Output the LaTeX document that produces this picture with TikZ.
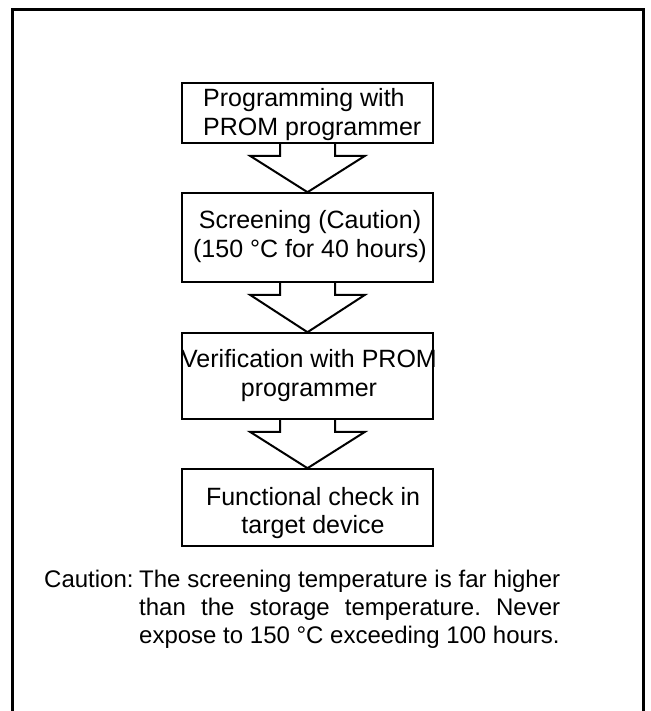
\documentclass[tikz,border=0pt]{standalone}
\usepackage{fontspec}
\setmainfont{Liberation Sans}
\usetikzlibrary{calc}
\frenchspacing
\newcommand\flowarr[2]{%
  \draw[bigarrow] ($(#1.south)+(-27.5,0)$) -- ($(#1.south)+(-27.5,12)$)
    -- ($(#1.south)+(-57.5,12)$) -- (#2.north)
    -- ($(#1.south)+(57.5,12)$) -- ($(#1.south)+(27.5,12)$)
    -- ($(#1.south)+(27.5,0)$);}
\begin{document}
\begin{tikzpicture}[x=1pt,y=-1pt,
  box/.style={draw,line width=1.6pt,minimum width=251pt,inner sep=0pt},
  bigarrow/.style={line width=2pt,line join=miter},
  txt/.style={font=\fontsize{25}{28.5}\selectfont,align=center,inner sep=0pt},
  ctxt/.style={font=\fontsize{24}{28}\selectfont,inner sep=0pt}]
\useasboundingbox (0,0) rectangle (650,711);
\draw[line width=3pt] (12.5,711) -- (12.5,9.5) -- (643,9.5) -- (643,711);
\node[box,minimum height=60pt] (b1) at (307.5,113) {};
\node[box,minimum height=89pt] (b2) at (307.5,237.5) {};
\node[box,minimum height=86pt] (b3) at (307.5,376) {};
\node[box,minimum height=77pt] (b4) at (307.5,507.5) {};
\node[txt,align=left,anchor=base west] (t1) at (203,135.5) {Programming with\\PROM programmer};
\node[txt,anchor=base] (t2) at (310,257) {Screening (Caution)\\(150~°C for 40 hours)};
\node[txt,anchor=base] (t3) at (309,396) {Verification with PROM\\programmer};
\node[txt,anchor=base] (t4) at (313,533.5) {Functional check in\\target device};
\flowarr{b1}{b2}
\flowarr{b2}{b3}
\flowarr{b3}{b4}
\node[ctxt,anchor=base west] (cl) at (44,587) {Caution:};
\node[ctxt,anchor=base west,text width=421pt,align=justify] (cb) at (139,587)
  {The screening temperature is far higher\linebreak than the storage temperature. Never\linebreak expose to 150~°C exceeding 100 hours.};
\end{tikzpicture}
\end{document}
